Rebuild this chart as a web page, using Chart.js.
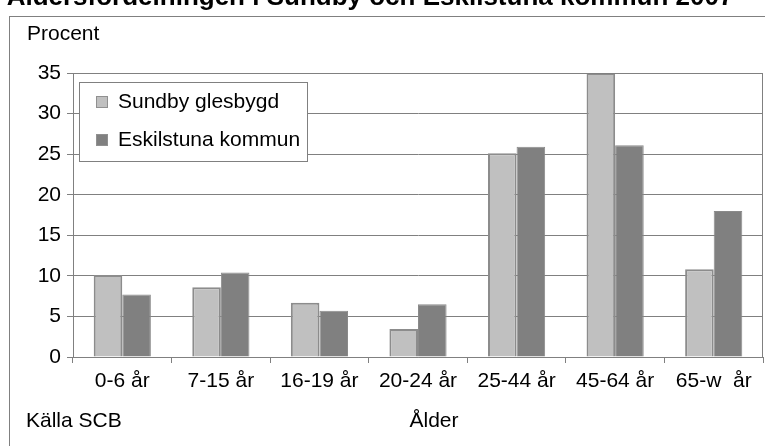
<!DOCTYPE html>
<html>
<head>
<meta charset="utf-8">
<script src="https://cdn.jsdelivr.net/npm/chart.js@4"></script>
<style>
  body { margin: 0; background: #fff; }
  canvas { display: block; }
</style>
</head>
<body>
<canvas id="myChart" width="765" height="446"></canvas>
<script>
// Data
const kategorier = ['0-6 år', '7-15 år', '16-19 år', '20-24 år', '25-44 år', '45-64 år', '65-w  år'];
const sundby = [10.1, 8.6, 6.7, 3.45, 25.1, 35, 10.8];
const eskilstuna = [7.7, 10.4, 5.7, 6.5, 25.9, 26.1, 18.0];
const titel = 'Åldersfördelningen i Sundby och Eskilstuna kommun 2007';

const FONT = '"Liberation Sans", Arial, sans-serif';

// ram, titel, texter och förklaring ritas här
const extras = {
    id: 'extras',
    beforeDraw(chart){
        const c = chart.ctx;
        c.save();
        c.fillStyle = '#fff';
        c.fillRect(0, 0, chart.width, chart.height);
        c.strokeStyle = '#808080';
        c.lineWidth = 1;
        c.strokeRect(9.5, 16.5, chart.width + 20, chart.height + 20);
        c.restore();
    },
    afterDraw(chart){
        const c = chart.ctx;
        const a = chart.chartArea;
        c.save();
        // ram runt diagramytan
        c.strokeStyle = '#808080';
        c.lineWidth = 1;
        c.beginPath();
        c.moveTo(a.left, a.top + 0.5);
        c.lineTo(a.right - 0.5, a.top + 0.5);
        c.lineTo(a.right - 0.5, a.bottom);
        c.stroke();

        c.fillStyle = '#000';
        c.font = 'bold 26px ' + FONT;
        c.textAlign = 'center';
        c.textBaseline = 'alphabetic';
        c.fillText(titel, 370, 5);

        c.font = '21px ' + FONT;
        c.textAlign = 'left';
        c.textBaseline = 'middle';
        c.fillText('Procent', 27, 34);
        c.fillText('Källa SCB', 26, 421);
        c.textAlign = 'center';
        c.fillText('Ålder', 434, 421);

        // förklaring
        c.fillStyle = '#fff';
        c.fillRect(79.5, 82.5, 228, 79);
        c.strokeStyle = '#808080';
        c.strokeRect(79.5, 82.5, 228, 79);
        const ys = [102, 140];
        chart.data.datasets.forEach((ds, i) => {
            c.fillStyle = ds.backgroundColor;
            c.fillRect(96, ys[i] - 6, 12, 12);
            c.strokeStyle = '#909090';
            c.strokeRect(96.5, ys[i] - 5.5, 11, 11);
            c.fillStyle = '#000';
            c.textAlign = 'left';
            c.fillText(ds.label, 118, ys[i]);
        });
        c.restore();
    }
};

const ctx = document.getElementById('myChart');

new Chart(ctx, {
    type: 'bar',
    data: {
        labels: kategorier,
        datasets: [{
            label: 'Sundby glesbygd',
            data: sundby,
            backgroundColor: '#c0c0c0',
            borderColor: '#8c8c8c',
            borderWidth: 2,
            borderSkipped: 'bottom'
        }, {
            label: 'Eskilstuna kommun',
            data: eskilstuna,
            backgroundColor: '#808080',
            borderColor: '#8a8a8a',
            borderWidth: 1,
            borderSkipped: 'bottom'
        }]
    },
    options: {
        responsive: false,
        animation: false,
        layout: { padding: { top: 73, right: 2, left: 0, bottom: 0 } },
        plugins: {
            legend: { display: false },
            tooltip: { enabled: false }
        },
        datasets: {
            bar: { categoryPercentage: 0.58, barPercentage: 1 }
        },
        scales: {
            x: {
                grid: { drawOnChartArea: false, color: '#808080', tickLength: 6 },
                border: { color: '#808080' },
                ticks: { color: '#000', font: { family: FONT, size: 21 }, padding: 6, maxRotation: 0 },
                afterFit(s){ s.height = 89; }
            },
            y: {
                min: 0,
                max: 35,
                ticks: { stepSize: 5, color: '#000', font: { family: FONT, size: 21 }, padding: 6 },
                grid: { color: '#808080', tickLength: 6 },
                border: { color: '#808080' },
                afterFit(s){ s.width = 73; }
            }
        }
    },
    plugins: [extras]
});
</script>
</body>
</html>
